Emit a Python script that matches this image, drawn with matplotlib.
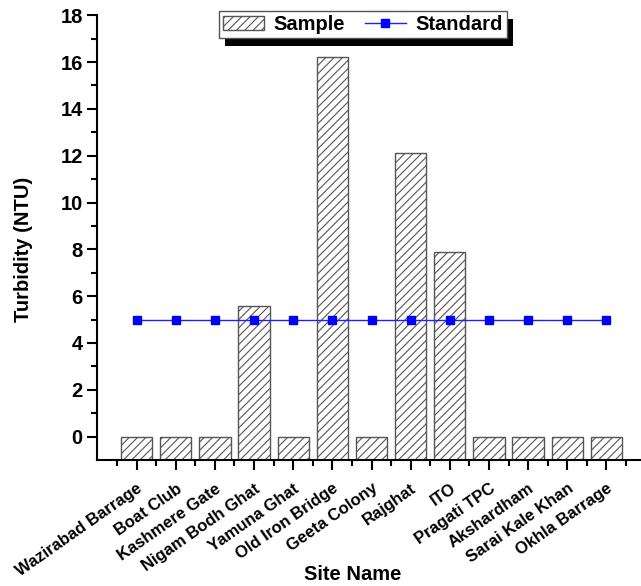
import matplotlib.pyplot as plt
from matplotlib.patches import Rectangle
import numpy as np

plt.rcParams['font.family'] = ['Liberation Sans', 'DejaVu Sans']
plt.rcParams['hatch.color'] = '#333333'
plt.rcParams['hatch.linewidth'] = 0.8

sites = ["Wazirabad Barrage", "Boat Club", "Kashmere Gate", "Nigam Bodh Ghat",
         "Yamuna Ghat", "Old Iron Bridge", "Geeta Colony", "Rajghat", "ITO",
         "Pragati TPC", "Akshardham", "Sarai Kale Khan", "Okhla Barrage"]
sample = [0, 0, 0, 5.6, 0, 16.2, 0, 12.1, 7.9, 0, 0, 0, 0]
standard = [5, 5, 5, 5, 5, 5, 5, 5, 5, 5, 5, 5, 5]

ymin = -1
x = np.arange(len(sites))

fig = plt.figure(figsize=(6.41, 5.86), dpi=100)
ax = fig.add_axes([0.152, 0.215, 0.846, 0.759])

vals = np.array(sample) - ymin
bars = ax.bar(x, vals, bottom=ymin, width=0.8, color='white', edgecolor='#555555',
              linewidth=1.0, hatch='////', label='Sample', zorder=2)
line, = ax.plot(x, standard, color='#1f1fff', lw=1.0, marker='s', ms=6,
                markerfacecolor='#0000ff', markeredgecolor='#0000ff',
                label='Standard', zorder=3)

ax.set_xlim(-1, 12.85)
ax.set_ylim(ymin, 18)
ax.spines['top'].set_visible(False)
ax.spines['right'].set_visible(False)
for s in ['left', 'bottom']:
    ax.spines[s].set_linewidth(1.5)

ax.set_yticks(np.arange(0, 19, 2))
ax.set_yticks(np.arange(1, 18, 2), minor=True)
ax.set_xticks(x)
ax.set_xticks(np.arange(-0.5, 12.6, 1), minor=True)
ax.set_xticklabels(sites, rotation=35, ha='right', rotation_mode='anchor',
                   fontsize=12, fontweight='bold')
ax.tick_params(axis='both', which='major', direction='out', length=7, width=1.5)
ax.tick_params(axis='both', which='minor', direction='out', length=4, width=1.5)
ax.tick_params(axis='x', which='major', pad=8)
ax.tick_params(axis='y', labelsize=14.5)
for lab in ax.get_yticklabels():
    lab.set_fontweight('bold')

ax.set_ylabel("Turbidity (NTU)", fontsize=14.5, fontweight='bold')
ax.set_xlabel("Site Name", fontsize=14.5, fontweight='bold')
ax.xaxis.set_label_coords(0.47, -0.235)
ax.yaxis.set_label_coords(-0.118, 0.474)

leg = ax.legend([bars, line], ['Sample', 'Standard'],
                loc='upper center', bbox_to_anchor=(0.49, 1.009), ncol=2,
                fancybox=False, edgecolor='#555555', framealpha=1,
                borderaxespad=0,
                prop={'weight': 'bold', 'size': 14.5}, handlelength=2.0,
                handletextpad=0.5, columnspacing=1.0, borderpad=0.2)
leg.get_frame().set_linewidth(1.0)

# black drop shadow behind the legend box
fig.canvas.draw()
bb = leg.get_window_extent()
shadow = Rectangle((bb.x0 + 6, bb.y0 - 8), bb.width, bb.height, transform=None,
                   facecolor='black', edgecolor='none', zorder=4.9, clip_on=False)
ax.add_artist(shadow)

fig.savefig("out.png", dpi=100)
